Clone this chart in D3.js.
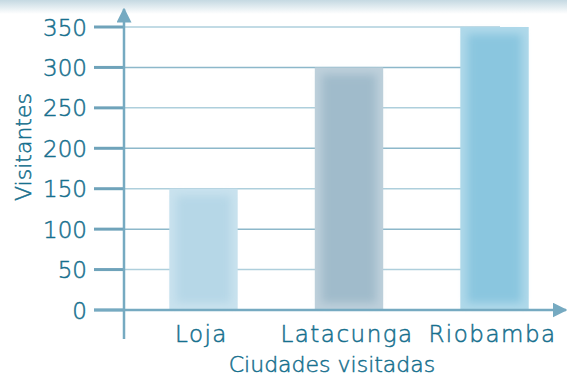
<!DOCTYPE html>
<meta charset="utf-8">
<style>
body { margin: 0; background: #fff; }
svg { display: block; font-family: 'DejaVu Sans', sans-serif; font-weight: 200; }
.lbl { fill: #17708e; stroke: #17708e; stroke-width: 0.5px; font-size: 22px; }
</style>
<svg width="567" height="378"></svg>
<script src="https://d3js.org/d3.v7.min.js"></script>
<script>
var cities = ["Loja", "Latacunga", "Riobamba"],
    visitors = [150, 300, 350],
    barColors = ["#b6d7e7", "#a0bbcb", "#8ac6df"],
    edgeColors = ["#c9e2ee", "#bed0db", "#b0d9ea"],
    ticks = [0, 50, 100, 150, 200, 250, 300, 350];

var svg = d3.select("svg"),
    x0 = 124, y0 = 310;

var y = d3.scaleLinear().domain([0, 350]).range([y0, 27]);
var x = d3.scaleBand().domain(cities).range([130, 568]).paddingInner(0.53).paddingOuter(0.27);

var defs = svg.append("defs");
var fade = defs.append("linearGradient").attr("id", "topfade").attr("x1", 0).attr("x2", 0).attr("y1", 0).attr("y2", 1);
fade.append("stop").attr("offset", 0).attr("stop-color", "#c5d9e2");
fade.append("stop").attr("offset", 1).attr("stop-color", "#fff");
defs.append("filter").attr("id", "soft").attr("x", "-20%").attr("y", "-20%").attr("width", "140%").attr("height", "140%")
  .append("feGaussianBlur").attr("stdDeviation", 4);
defs.append("marker").attr("id", "arrow").attr("viewBox", "0 0 10 10").attr("refX", 9).attr("refY", 5)
  .attr("markerWidth", 6).attr("markerHeight", 6).attr("markerUnits", "strokeWidth").attr("orient", "auto")
  .append("path").attr("d", "M0,0L10,5L0,10z").attr("fill", "#76aac1");

svg.append("rect").attr("width", 567).attr("height", 14).attr("fill", "url(#topfade)");

// gridlines
svg.append("g").selectAll("line").data(ticks.slice(1)).enter().append("line")
  .attr("x1", 94).attr("x2", function(d) { return d == 350 ? 500 : 520; })
  .attr("y1", y).attr("y2", y)
  .attr("stroke", function(d) { return d % 100 == 0 ? "#8db8ca" : "#aecfdc"; })
  .attr("stroke-width", 1.5);

// bars
var bars = svg.append("g").selectAll("g").data(cities).enter().append("g");
bars.append("rect")
  .attr("x", function(d) { return x(d); })
  .attr("y", function(d, i) { return y(visitors[i]); })
  .attr("width", x.bandwidth())
  .attr("height", function(d, i) { return y0 - y(visitors[i]); })
  .attr("fill", function(d, i) { return edgeColors[i]; });
bars.append("rect")
  .attr("x", function(d) { return x(d) + 7; })
  .attr("y", function(d, i) { return y(visitors[i]) + 7; })
  .attr("width", x.bandwidth() - 14)
  .attr("height", function(d, i) { return y0 - y(visitors[i]) - 14; })
  .attr("fill", function(d, i) { return barColors[i]; })
  .attr("filter", "url(#soft)");

// tick marks on y axis
svg.append("g").selectAll("line").data(ticks).enter().append("line")
  .attr("x1", 94).attr("x2", x0).attr("y1", y).attr("y2", y)
  .attr("stroke", "#6fa3ba").attr("stroke-width", 3);

svg.append("g").selectAll("text").data(ticks).enter().append("text")
  .attr("class", "lbl")
  .attr("x", 87).attr("y", function(d) { return y(d) + 8.5; })
  .attr("text-anchor", "end")
  .style("font-size", "23px")
  .text(function(d) { return d; });

// axes
svg.append("line").attr("x1", x0).attr("x2", x0).attr("y1", 339).attr("y2", 9)
  .attr("stroke", "#76aac1").attr("stroke-width", 2.5).attr("marker-end", "url(#arrow)");
svg.append("line").attr("x1", 94).attr("x2", 566).attr("y1", y0).attr("y2", y0)
  .attr("stroke", "#76aac1").attr("stroke-width", 2.5).attr("marker-end", "url(#arrow)");

svg.append("g").selectAll("text").data(cities).enter().append("text")
  .attr("class", "lbl")
  .attr("x", function(d) { return x(d) + x.bandwidth() / 2 - 2; })
  .attr("y", 342)
  .attr("text-anchor", "middle")
  .style("font-size", "23px").style("letter-spacing", "1.5px")
  .text(function(d) { return d; });

svg.append("text").attr("class", "lbl").attr("x", 332).attr("y", 372)
  .attr("text-anchor", "middle").text("Ciudades visitadas");
svg.append("text").attr("class", "lbl")
  .attr("transform", "translate(31,147) rotate(-90)")
  .attr("text-anchor", "middle").text("Visitantes");
</script>
